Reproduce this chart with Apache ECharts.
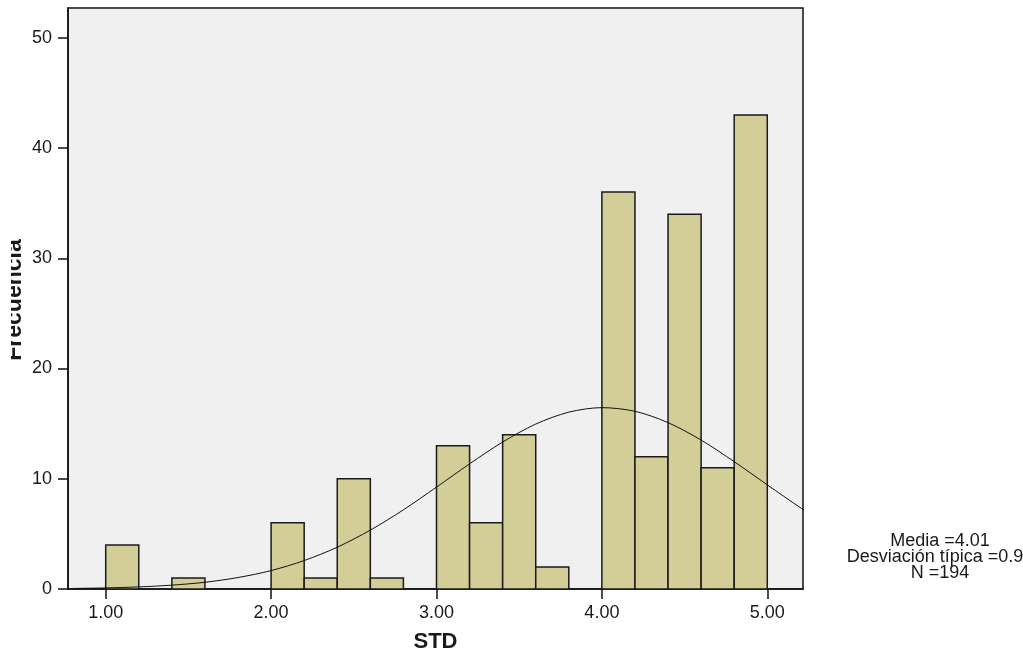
<!DOCTYPE html>
<html>
<head>
<meta charset="utf-8">
<script src="https://cdn.jsdelivr.net/npm/echarts@6/dist/echarts.min.js"></script>
<style>
html,body{margin:0;padding:0;background:#fff;}
#chart{width:1023px;height:658px;}
</style>
</head>
<body>
<div id="chart"></div>
<script>
// Histogram bins (STD), frequencies
const binLow  = [1.0, 1.2, 1.4, 1.6, 1.8, 2.0, 2.2, 2.4, 2.6, 2.8, 3.0, 3.2, 3.4, 3.6, 3.8, 4.0, 4.2, 4.4, 4.6, 4.8];
const binHigh = [1.2, 1.4, 1.6, 1.8, 2.0, 2.2, 2.4, 2.6, 2.8, 3.0, 3.2, 3.4, 3.6, 3.8, 4.0, 4.2, 4.4, 4.6, 4.8, 5.0];
const counts  = [4,   0,   1,   0,   0,   6,   1,   10,  1,   0,   13,  6,   14,  2,   0,   36,  12,  34,  11,  43];

// Normal curve, points
const curveX = [0.8, 1.0, 1.2, 1.4, 1.6, 1.8, 2.0, 2.2, 2.4, 2.6, 2.8, 3.0, 3.2, 3.4, 3.6, 3.8, 4.0, 4.2, 4.4, 4.6, 4.8, 5.0, 5.2, 5.4];
const curveY = [0.05, 0.10, 0.19, 0.35, 0.61, 1.04, 1.67, 2.58, 3.79, 5.34, 7.18, 9.24, 11.35, 13.33, 14.96, 16.04, 16.45, 16.12, 15.09, 13.51, 11.55, 9.45, 7.38, 5.51];

const xTicks = [1, 2, 3, 4, 5];
const yTicks = [0, 10, 20, 30, 40, 50];
const statsLines = ['Media =4.01', 'Desviación típica =0.94', 'N =194'];

const FONT = '"Liberation Sans", Arial, sans-serif';
const TXT = '#1a1a1a';

const barData = binLow.map((lo, i) => [lo, binHigh[i], counts[i]]).filter(d => d[2] > 0);
const lineData = curveX.map((x, i) => [x, curveY[i]]);

const chart = echarts.init(document.getElementById('chart'), null, {renderer: 'canvas'});
chart.setOption({
  animation: false,
  backgroundColor: '#ffffff',
  grid: {
    left: 68, top: 8, width: 735, height: 584,
    show: true, backgroundColor: '#f0f0f0', borderColor: '#111', borderWidth: 1.5
  },
  xAxis: {
    type: 'value', min: 0.772, max: 5.216,
    name: 'STD', nameLocation: 'middle', nameGap: 53,
    nameTextStyle: {fontFamily: FONT, fontSize: 22, fontWeight: 'bold', color: TXT, verticalAlign: 'middle'},
    axisLine: {show: true, onZero: false, lineStyle: {color: '#111', width: 1.5}},
    axisTick: {show: true, customValues: xTicks, length: 10, lineStyle: {color: '#111', width: 1.5}},
    axisLabel: {customValues: xTicks, formatter: v => v.toFixed(2), fontFamily: FONT, fontSize: 18, color: TXT, margin: 15},
    splitLine: {show: false}
  },
  yAxis: {
    type: 'value', min: 0, max: 52.7,
    axisLine: {show: true, lineStyle: {color: '#111', width: 1.5}},
    axisTick: {show: true, customValues: yTicks, length: 10, lineStyle: {color: '#111', width: 1.5}},
    axisLabel: {customValues: yTicks, fontFamily: FONT, fontSize: 18, color: TXT, margin: 16},
    splitLine: {show: false}
  },
  series: [
    {
      type: 'custom',
      data: barData,
      encode: {x: [0, 1], y: 2},
      clip: true,
      z: 2,
      renderItem: function (params, api) {
        const p0 = api.coord([api.value(0), api.value(2)]);
        const p1 = api.coord([api.value(1), 0]);
        return {
          type: 'rect',
          shape: {x: p0[0], y: p0[1], width: p1[0] - p0[0], height: p1[1] - p0[1]},
          style: {fill: '#d3cd98', stroke: '#1a1a1a', lineWidth: 1.5}
        };
      }
    },
    {
      type: 'line',
      data: lineData,
      smooth: 0.3,
      showSymbol: false,
      symbol: 'none',
      clip: true,
      z: 3,
      lineStyle: {color: '#111', width: 1}
    }
  ],
  graphic: [
    {
      type: 'text', x: 15, y: 300, rotation: Math.PI / 2, z: 10,
      style: {text: 'Frecuencia', fontFamily: FONT, fontSize: 23, fontWeight: 'bold', fill: TXT, align: 'center', verticalAlign: 'middle'}
    },
    {type: 'rect', shape: {x: 0, y: 200, width: 11, height: 200}, style: {fill: '#ffffff'}, z: 11},
    {type: 'text', x: 940, y: 541, z: 10, style: {text: statsLines[0], fontFamily: FONT, fontSize: 18, fill: TXT, align: 'center', verticalAlign: 'middle'}},
    {type: 'text', x: 940, y: 557, z: 10, style: {text: statsLines[1], fontFamily: FONT, fontSize: 18, fill: TXT, align: 'center', verticalAlign: 'middle'}},
    {type: 'text', x: 940, y: 573, z: 10, style: {text: statsLines[2], fontFamily: FONT, fontSize: 18, fill: TXT, align: 'center', verticalAlign: 'middle'}}
  ]
});
</script>
</body>
</html>
